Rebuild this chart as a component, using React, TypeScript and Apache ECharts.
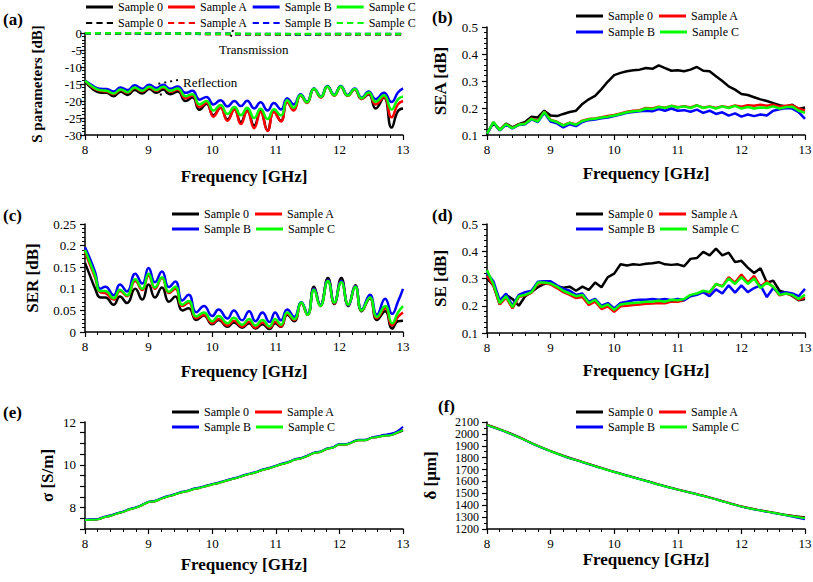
import React, { useEffect, useRef } from 'react';
import * as echarts from 'echarts';

const FONT = "'Liberation Serif', 'Times New Roman', Times, serif";
const C0 = '#000000';
const CA = '#ff0000';
const CB = '#0000ff';
const CC = '#00ff00';

// ---------- (a) S parameters ----------
const fRefl = [8.0, 8.12, 8.23, 8.34, 8.45, 8.56, 8.67, 8.78, 8.9, 9.01, 9.12, 9.23, 9.34, 9.46, 9.58, 9.69, 9.8, 9.91, 10.02, 10.13, 10.24, 10.35, 10.45, 10.55, 10.66, 10.76, 10.87, 10.97, 11.08, 11.18, 11.28, 11.39, 11.49, 11.6, 11.71, 11.81, 11.92, 12.02, 12.13, 12.24, 12.35, 12.46, 12.57, 12.7, 12.82, 12.92, 13.0];
const refl0 = [-14.2, -16.5, -17.5, -17.6, -18.6, -17.3, -18.2, -16.8, -17.8, -16.5, -17.6, -16.6, -18.0, -17.2, -20.0, -19.0, -22.6, -20.8, -24.2, -22.0, -25.4, -22.4, -26.2, -22.8, -27.2, -23.0, -28.6, -23.0, -25.8, -20.2, -22.6, -18.3, -20.4, -16.4, -18.8, -15.7, -18.3, -15.7, -18.4, -16.6, -19.4, -18.0, -22.2, -19.0, -27.8, -23.0, -22.2];
const reflA = [-14.0, -16.0, -17.0, -17.2, -18.0, -16.8, -17.6, -16.2, -17.2, -16.0, -17.0, -16.0, -17.3, -16.6, -19.2, -18.4, -21.8, -20.5, -24.6, -22.0, -25.8, -22.5, -26.8, -23.0, -28.0, -23.2, -28.8, -23.2, -26.0, -20.3, -22.8, -18.4, -20.6, -16.5, -19.0, -15.8, -18.4, -15.8, -18.5, -16.6, -19.4, -17.8, -21.0, -18.8, -24.8, -21.0, -20.0];
const reflB = [-14.0, -15.5, -16.4, -16.5, -17.2, -16.0, -16.8, -15.4, -16.4, -15.2, -16.2, -15.2, -16.4, -15.7, -17.6, -17.0, -19.6, -18.8, -21.0, -19.8, -21.6, -20.0, -21.5, -19.9, -22.2, -20.4, -22.8, -20.6, -22.5, -19.2, -21.0, -18.0, -20.2, -16.3, -18.7, -15.6, -18.2, -15.6, -18.2, -16.3, -19.0, -17.2, -19.5, -17.6, -20.3, -17.5, -16.3];
const reflC = [-14.0, -15.8, -16.8, -17.0, -17.8, -16.6, -17.4, -16.0, -17.0, -15.8, -16.8, -15.8, -17.0, -16.3, -18.6, -18.0, -21.0, -20.0, -22.8, -21.2, -23.8, -21.8, -24.2, -22.0, -25.0, -22.3, -25.3, -22.4, -24.3, -19.8, -22.0, -18.2, -20.4, -16.4, -18.8, -15.7, -18.3, -15.7, -18.4, -16.5, -19.2, -17.5, -20.2, -18.3, -22.5, -19.5, -18.7];

const fTrans = [8, 8.5, 9, 9.5, 10, 10.5, 11, 11.5, 12, 12.5, 13];
const trans0 = [-0.1, -0.12, -0.15, -0.2, -0.3, -0.35, -0.4, -0.42, -0.38, -0.35, -0.35];
const transA = [-0.1, -0.12, -0.14, -0.2, -0.28, -0.34, -0.4, -0.4, -0.36, -0.34, -0.34];
const transB = [-0.08, -0.1, -0.12, -0.16, -0.22, -0.28, -0.32, -0.34, -0.3, -0.3, -0.3];
const transC = [-0.05, -0.08, -0.1, -0.14, -0.2, -0.25, -0.3, -0.32, -0.28, -0.28, -0.28];

// ---------- common 0.1 GHz grid for (b), (d), (e) ----------
const fGrid = [8.0, 8.1, 8.2, 8.3, 8.4, 8.5, 8.6, 8.7, 8.8, 8.9, 9.0, 9.1, 9.2, 9.3, 9.4, 9.5, 9.6, 9.7, 9.8, 9.9, 10.0, 10.1, 10.2, 10.3, 10.4, 10.5, 10.6, 10.7, 10.8, 10.9, 11.0, 11.1, 11.2, 11.3, 11.4, 11.5, 11.6, 11.7, 11.8, 11.9, 12.0, 12.1, 12.2, 12.3, 12.4, 12.5, 12.6, 12.7, 12.8, 12.9, 13.0];

// ---------- (b) SEA ----------
const sea0 = [0.105, 0.145, 0.118, 0.142, 0.128, 0.14, 0.148, 0.168, 0.165, 0.19, 0.172, 0.17, 0.178, 0.185, 0.19, 0.215, 0.232, 0.245, 0.27, 0.298, 0.322, 0.33, 0.336, 0.34, 0.342, 0.348, 0.345, 0.358, 0.348, 0.338, 0.34, 0.336, 0.342, 0.352, 0.338, 0.336, 0.318, 0.3, 0.28, 0.268, 0.252, 0.248, 0.24, 0.232, 0.226, 0.218, 0.21, 0.206, 0.212, 0.196, 0.202];
const seaA = [0.105, 0.147, 0.119, 0.141, 0.126, 0.139, 0.143, 0.161, 0.152, 0.186, 0.156, 0.149, 0.136, 0.146, 0.139, 0.153, 0.159, 0.161, 0.166, 0.17, 0.174, 0.18, 0.186, 0.19, 0.192, 0.2, 0.198, 0.205, 0.201, 0.208, 0.203, 0.207, 0.202, 0.21, 0.201, 0.206, 0.2, 0.207, 0.202, 0.209, 0.205, 0.21, 0.208, 0.212, 0.208, 0.212, 0.205, 0.208, 0.21, 0.198, 0.19];
const seaB = [0.105, 0.146, 0.117, 0.139, 0.124, 0.137, 0.14, 0.158, 0.148, 0.182, 0.15, 0.143, 0.128, 0.14, 0.133, 0.148, 0.155, 0.157, 0.162, 0.165, 0.17, 0.176, 0.182, 0.185, 0.188, 0.19, 0.188, 0.196, 0.19, 0.198, 0.19, 0.192, 0.186, 0.194, 0.182, 0.19, 0.178, 0.184, 0.172, 0.18, 0.168, 0.176, 0.17, 0.176, 0.172, 0.19, 0.195, 0.2, 0.198, 0.185, 0.16];
const seaC = [0.105, 0.148, 0.118, 0.14, 0.125, 0.138, 0.142, 0.16, 0.15, 0.185, 0.155, 0.148, 0.135, 0.145, 0.138, 0.152, 0.158, 0.16, 0.165, 0.168, 0.172, 0.178, 0.184, 0.188, 0.19, 0.198, 0.196, 0.204, 0.2, 0.208, 0.202, 0.206, 0.2, 0.21, 0.2, 0.205, 0.198, 0.206, 0.2, 0.208, 0.198, 0.204, 0.198, 0.202, 0.2, 0.206, 0.198, 0.204, 0.205, 0.19, 0.182];

// ---------- (c) SER ----------
const fSer = [8.0, 8.08, 8.16, 8.24, 8.32, 8.45, 8.55, 8.66, 8.79, 8.9, 9.0, 9.1, 9.21, 9.32, 9.42, 9.53, 9.63, 9.75, 9.87, 10.0, 10.1, 10.24, 10.34, 10.47, 10.58, 10.68, 10.79, 10.9, 10.99, 11.08, 11.18, 11.29, 11.4, 11.5, 11.6, 11.7, 11.82, 11.92, 12.03, 12.14, 12.25, 12.35, 12.48, 12.59, 12.72, 12.83, 12.92, 13.0];
const ser0 = [0.16, 0.13, 0.1, 0.08, 0.08, 0.063, 0.082, 0.067, 0.1, 0.075, 0.11, 0.08, 0.103, 0.07, 0.082, 0.05, 0.055, 0.028, 0.038, 0.018, 0.028, 0.012, 0.022, 0.01, 0.02, 0.008, 0.018, 0.007, 0.02, 0.012, 0.04, 0.025, 0.068, 0.04, 0.105, 0.062, 0.125, 0.065, 0.125, 0.06, 0.108, 0.048, 0.078, 0.028, 0.048, 0.008, 0.025, 0.026];
const serA = [0.185, 0.155, 0.125, 0.092, 0.09, 0.075, 0.095, 0.083, 0.118, 0.097, 0.13, 0.1, 0.125, 0.09, 0.1, 0.06, 0.068, 0.032, 0.04, 0.02, 0.03, 0.015, 0.026, 0.012, 0.024, 0.01, 0.022, 0.01, 0.024, 0.013, 0.042, 0.028, 0.067, 0.04, 0.1, 0.06, 0.12, 0.066, 0.118, 0.062, 0.106, 0.05, 0.08, 0.032, 0.055, 0.015, 0.035, 0.045];
const serB = [0.196, 0.169, 0.138, 0.1, 0.105, 0.085, 0.11, 0.094, 0.135, 0.112, 0.148, 0.115, 0.14, 0.104, 0.117, 0.073, 0.086, 0.046, 0.06, 0.037, 0.052, 0.031, 0.05, 0.027, 0.048, 0.025, 0.045, 0.023, 0.045, 0.027, 0.052, 0.035, 0.069, 0.042, 0.1, 0.062, 0.12, 0.068, 0.118, 0.062, 0.106, 0.052, 0.086, 0.04, 0.077, 0.042, 0.07, 0.1];
const serC = [0.19, 0.16, 0.13, 0.095, 0.095, 0.078, 0.098, 0.085, 0.122, 0.1, 0.135, 0.103, 0.127, 0.093, 0.105, 0.063, 0.072, 0.036, 0.045, 0.025, 0.037, 0.02, 0.033, 0.017, 0.03, 0.015, 0.028, 0.013, 0.03, 0.017, 0.045, 0.03, 0.068, 0.04, 0.098, 0.06, 0.118, 0.068, 0.115, 0.063, 0.105, 0.05, 0.08, 0.035, 0.06, 0.02, 0.045, 0.06];

// ---------- (d) SE ----------
const se0 = [0.3, 0.275, 0.205, 0.24, 0.225, 0.2, 0.235, 0.25, 0.268, 0.28, 0.284, 0.272, 0.266, 0.27, 0.255, 0.27, 0.258, 0.285, 0.268, 0.305, 0.318, 0.352, 0.348, 0.352, 0.35, 0.354, 0.356, 0.36, 0.352, 0.35, 0.352, 0.345, 0.372, 0.375, 0.398, 0.385, 0.41, 0.385, 0.395, 0.36, 0.365, 0.34, 0.32, 0.338, 0.285, 0.292, 0.255, 0.248, 0.236, 0.22, 0.225];
const seA = [0.31, 0.275, 0.205, 0.23, 0.19, 0.232, 0.238, 0.248, 0.282, 0.283, 0.278, 0.265, 0.25, 0.24, 0.228, 0.232, 0.203, 0.215, 0.188, 0.198, 0.178, 0.198, 0.2, 0.203, 0.205, 0.207, 0.208, 0.21, 0.209, 0.215, 0.215, 0.22, 0.238, 0.243, 0.252, 0.248, 0.28, 0.272, 0.305, 0.285, 0.315, 0.285, 0.31, 0.27, 0.29, 0.268, 0.238, 0.245, 0.238, 0.222, 0.23];
const seB = [0.32, 0.29, 0.22, 0.245, 0.2, 0.24, 0.25, 0.255, 0.288, 0.29, 0.29, 0.275, 0.262, 0.255, 0.24, 0.245, 0.215, 0.225, 0.2, 0.21, 0.19, 0.21, 0.215, 0.22, 0.222, 0.222, 0.225, 0.222, 0.225, 0.22, 0.225, 0.22, 0.235, 0.24, 0.25, 0.235, 0.26, 0.245, 0.275, 0.248, 0.275, 0.25, 0.265, 0.275, 0.232, 0.265, 0.245, 0.25, 0.245, 0.235, 0.262];
const seC = [0.33, 0.28, 0.21, 0.235, 0.195, 0.235, 0.24, 0.25, 0.285, 0.285, 0.282, 0.27, 0.255, 0.245, 0.235, 0.24, 0.21, 0.222, 0.195, 0.205, 0.185, 0.205, 0.208, 0.21, 0.212, 0.215, 0.215, 0.218, 0.215, 0.222, 0.22, 0.225, 0.24, 0.245, 0.255, 0.25, 0.28, 0.27, 0.3, 0.28, 0.305, 0.28, 0.3, 0.265, 0.285, 0.27, 0.24, 0.245, 0.24, 0.225, 0.24];

// ---------- (e) conductivity ----------
const sig0 = [7.42, 7.43, 7.45, 7.55, 7.62, 7.72, 7.8, 7.92, 8.0, 8.12, 8.26, 8.3, 8.42, 8.52, 8.6, 8.7, 8.76, 8.86, 8.92, 9.0, 9.08, 9.15, 9.24, 9.32, 9.4, 9.5, 9.58, 9.66, 9.77, 9.84, 9.94, 10.04, 10.12, 10.24, 10.3, 10.42, 10.55, 10.6, 10.74, 10.8, 10.95, 10.95, 11.05, 11.15, 11.15, 11.25, 11.3, 11.36, 11.38, 11.48, 11.6];
const sigA = [7.42, 7.43, 7.45, 7.55, 7.62, 7.72, 7.8, 7.92, 8.0, 8.12, 8.26, 8.3, 8.42, 8.52, 8.6, 8.7, 8.76, 8.86, 8.92, 9.0, 9.08, 9.15, 9.24, 9.32, 9.4, 9.5, 9.58, 9.66, 9.77, 9.84, 9.94, 10.04, 10.12, 10.24, 10.3, 10.42, 10.55, 10.6, 10.74, 10.8, 10.95, 10.95, 11.05, 11.15, 11.15, 11.25, 11.3, 11.37, 11.4, 11.48, 11.65];
const sigB = [7.44, 7.45, 7.47, 7.57, 7.64, 7.74, 7.82, 7.94, 8.02, 8.14, 8.28, 8.32, 8.44, 8.54, 8.62, 8.72, 8.78, 8.88, 8.94, 9.02, 9.1, 9.17, 9.26, 9.34, 9.42, 9.52, 9.6, 9.68, 9.79, 9.86, 9.96, 10.06, 10.14, 10.26, 10.32, 10.44, 10.57, 10.62, 10.76, 10.82, 10.97, 10.97, 11.07, 11.17, 11.17, 11.27, 11.33, 11.4, 11.45, 11.55, 11.78];
const sigC = [7.42, 7.43, 7.45, 7.55, 7.62, 7.72, 7.8, 7.92, 8.0, 8.12, 8.26, 8.3, 8.42, 8.52, 8.6, 8.7, 8.76, 8.86, 8.92, 9.0, 9.08, 9.15, 9.24, 9.32, 9.4, 9.5, 9.58, 9.66, 9.77, 9.84, 9.94, 10.04, 10.12, 10.24, 10.3, 10.42, 10.55, 10.6, 10.74, 10.8, 10.95, 10.95, 11.05, 11.15, 11.15, 11.25, 11.3, 11.36, 11.38, 11.5, 11.62];

// ---------- (f) skin depth ----------
const fDelta = [8.0, 8.25, 8.5, 8.75, 9.0, 9.25, 9.5, 9.75, 10.0, 10.25, 10.5, 10.75, 11.0, 11.25, 11.5, 11.75, 12.0, 12.25, 12.5, 12.75, 13.0];
const del0 = [2078, 2030, 1974, 1912, 1857, 1808, 1765, 1722, 1681, 1643, 1606, 1568, 1533, 1500, 1466, 1428, 1390, 1363, 1338, 1315, 1298];
const delA = [2075, 2028, 1972, 1910, 1855, 1806, 1764, 1721, 1680, 1642, 1605, 1567, 1532, 1499, 1465, 1427, 1389, 1362, 1337, 1313, 1292];
const delB = [2072, 2025, 1970, 1908, 1853, 1804, 1762, 1720, 1679, 1641, 1604, 1566, 1531, 1498, 1464, 1426, 1388, 1360, 1335, 1310, 1282];
const delC = [2074, 2027, 1971, 1909, 1854, 1805, 1763, 1720, 1679, 1641, 1604, 1566, 1531, 1498, 1464, 1426, 1388, 1361, 1336, 1312, 1290];

const NAMES = ['Sample 0', 'Sample A', 'Sample B', 'Sample C'];
const T_NAMES = ['Sample 0 S21', 'Sample A S21', 'Sample B S21', 'Sample C S21'];
const COLORS = [C0, CA, CB, CC];

const GRIDS = [
  { left: 85, top: 33, width: 318, height: 102 },
  { left: 487, top: 27, width: 318, height: 108 },
  { left: 85, top: 224, width: 318, height: 108 },
  { left: 487, top: 224, width: 318, height: 109 },
  { left: 85, top: 422, width: 318, height: 107 },
  { left: 487, top: 422, width: 318, height: 107 },
];

const zip = (xs: number[], ys: number[]) => xs.map((x, i) => [x, ys[i]]);

function xAxis(gridIndex: number, nameGap: number) {
  return {
    type: 'value', gridIndex, min: 8, max: 13, interval: 1,
    name: 'Frequency [GHz]', nameLocation: 'middle', nameGap,
    nameTextStyle: { fontFamily: FONT, fontWeight: 'bold', fontSize: 17, color: '#000' },
    axisLine: { show: true, onZero: false, lineStyle: { color: '#000', width: 1.5 } },
    axisTick: { show: true, length: 5, lineStyle: { color: '#000', width: 1.2 } },
    minorTick: { show: true, splitNumber: 5, length: 3, lineStyle: { color: '#000', width: 1 } },
    axisLabel: { fontFamily: FONT, fontSize: 13, color: '#000', margin: 8 },
    splitLine: { show: false },
  };
}

function yAxis(gridIndex: number, name: string, min: number, max: number, interval: number, nameGap: number, extra: any = {}) {
  return {
    type: 'value', gridIndex, min, max, interval,
    name, nameLocation: 'middle', nameGap,
    nameTextStyle: { fontFamily: FONT, fontWeight: 'bold', fontSize: extra.nameSize || 17, color: '#000' },
    axisLine: { show: true, onZero: false, lineStyle: { color: '#000', width: 1.5 } },
    axisTick: { show: true, length: 5, lineStyle: { color: '#000', width: 1.2 } },
    minorTick: { show: extra.minor !== 0, splitNumber: extra.minor || 5, length: 3, lineStyle: { color: '#000', width: 1 } },
    axisLabel: {
      fontFamily: FONT, fontSize: extra.labelSize || 13, lineHeight: extra.lineHeight, color: '#000',
      margin: extra.margin ?? 9,
      formatter: extra.formatter || ((v: number) => String(Math.round(v * 1000) / 1000)),
    },
    splitLine: { show: false },
  };
}

function line(idx: number, name: string, data: number[][], color: string, opts: any = {}) {
  return {
    type: 'line', name, xAxisIndex: idx, yAxisIndex: idx, data,
    symbol: 'none', smooth: opts.smooth ?? false, clip: true,
    lineStyle: { color, width: opts.width ?? 2.5, type: opts.dash ?? 'solid' },
    itemStyle: { color },
    silent: true,
  };
}

const DASH_ICON = 'path://M0,0H6V2H0Z M10,0H16V2H10Z M20,0H26V2H20Z';

function legendRow(names: string[], left: number, cy: number, gap: number, opts: any = {}) {
  return {
    left, top: cy - 7, orient: 'horizontal', padding: 0,
    itemWidth: 27, itemHeight: 3, itemGap: gap,
    icon: opts.icon || 'rect',
    selectedMode: false, data: names,
    textStyle: { fontFamily: FONT, fontSize: 12, color: '#000', lineHeight: 14 },
    formatter: opts.formatter,
  };
}

function panelLabel(text: string, x: number, y: number) {
  return { type: 'text', x, y, style: { text, font: `bold 17px ${FONT}`, fill: '#000', verticalAlign: 'middle', align: 'left' } };
}

function buildOption() {
  const series: any[] = [];
  const trans = [trans0, transA, transB, transC];
  const refl = [refl0, reflA, reflB, reflC];
  trans.forEach((d, i) => series.push(line(0, T_NAMES[i], zip(fTrans, d), COLORS[i], { dash: [6, 4], smooth: true })));
  refl.forEach((d, i) => series.push(line(0, NAMES[i], zip(fRefl, d), COLORS[i], { smooth: 0.5 })));
  [sea0, seaA, seaB, seaC].forEach((d, i) => series.push(line(1, NAMES[i], zip(fGrid, d), COLORS[i])));
  [ser0, serA, serB, serC].forEach((d, i) => series.push(line(2, NAMES[i], zip(fSer, d), COLORS[i], { smooth: 0.5 })));
  [se0, seA, seB, seC].forEach((d, i) => series.push(line(3, NAMES[i], zip(fGrid, d), COLORS[i])));
  [sig0, sigA, sigB, sigC].forEach((d, i) => series.push(line(4, NAMES[i], zip(fGrid, d), COLORS[i], { smooth: 0.4, width: 2 })));
  [del0, delA, delB, delC].forEach((d, i) => series.push(line(5, NAMES[i], zip(fDelta, d), COLORS[i], { smooth: 0.4, width: 2 })));

  const stripT = (n: string) => n.replace(' S21', '');

  return {
    animation: false,
    backgroundColor: '#ffffff',
    grid: GRIDS.map((g) => ({ ...g, containLabel: false, outerBoundsMode: 'none' })),
    xAxis: [xAxis(0, 33), xAxis(1, 30), xAxis(2, 31), xAxis(3, 29), xAxis(4, 27), xAxis(5, 22)],
    yAxis: [
      yAxis(0, 'S parameters [dB]', -30, 0, 5, 41, { margin: 3, nameSize: 15 }),
      yAxis(1, 'SEA [dB]', 0.1, 0.5, 0.1, 38),
      yAxis(2, 'SER [dB]', 0, 0.25, 0.05, 44),
      yAxis(3, 'SE [dB]', 0.1, 0.5, 0.1, 38),
      yAxis(4, 'σ [S/m]', 7, 12, 0.5, 29, { minor: 0, formatter: (v: number) => (Math.abs(v % 2) < 1e-9 ? String(v) : '') }),
      yAxis(5, 'δ [μm]', 1200, 2100, 100, 48, { minor: 2, labelSize: 12, lineHeight: 10, margin: 8 }),
    ],
    legend: [
      legendRow(NAMES, 86, 7, 5),
      legendRow(T_NAMES, 86, 23, 5, { formatter: stripT, icon: DASH_ICON }),
      legendRow(['Sample 0', 'Sample A'], 576, 16, 6),
      legendRow(['Sample B', 'Sample C'], 576, 32, 5),
      legendRow(['Sample 0', 'Sample A'], 172, 214, 6),
      legendRow(['Sample B', 'Sample C'], 172, 229, 5),
      legendRow(['Sample 0', 'Sample A'], 576, 214, 6),
      legendRow(['Sample B', 'Sample C'], 576, 229, 5),
      legendRow(['Sample 0', 'Sample A'], 172, 412, 6),
      legendRow(['Sample B', 'Sample C'], 172, 427, 5),
      legendRow(['Sample 0', 'Sample A'], 576, 412, 6),
      legendRow(['Sample B', 'Sample C'], 576, 427, 5),
    ],
    graphic: [
      panelLabel('(a)', 3, 19),
      panelLabel('(b)', 432, 17),
      panelLabel('(c)', 3, 215),
      panelLabel('(d)', 432, 215),
      panelLabel('(e)', 3, 412),
      panelLabel('(f)', 438, 406),
      { type: 'text', x: 219, y: 49, style: { text: 'Transmission', font: `13px ${FONT}`, fill: '#000', verticalAlign: 'middle' } },
      { type: 'text', x: 183, y: 82, style: { text: 'Reflection', font: `13px ${FONT}`, fill: '#000', verticalAlign: 'middle' } },
      { type: 'line', shape: { x1: 178, y1: 80, x2: 157, y2: 84 }, style: { stroke: '#000', lineWidth: 2, lineDash: [2, 4] } },
      { type: 'line', shape: { x1: 179, y1: 89, x2: 156, y2: 96 }, style: { stroke: '#000', lineWidth: 2, lineDash: [2, 4] } },
      { type: 'line', shape: { x1: 233, y1: 30, x2: 230, y2: 39 }, style: { stroke: '#000', lineWidth: 2, lineDash: [2, 3] } },
    ],
    series,
  };
}

export default function App() {
  const ref = useRef<HTMLDivElement>(null);
  useEffect(() => {
    if (!ref.current) return;
    const chart = echarts.init(ref.current, null, { renderer: 'svg' });
    chart.setOption(buildOption() as any);
    return () => chart.dispose();
  }, []);
  return (
    <div
      ref={ref}
      style={{ position: 'fixed', left: 0, top: 0, width: 813, height: 582, background: '#ffffff' }}
    />
  );
}
